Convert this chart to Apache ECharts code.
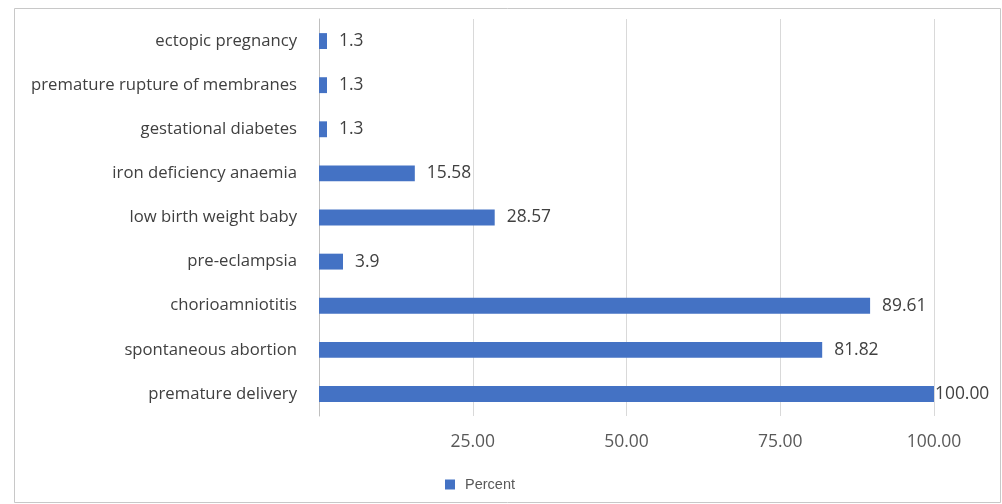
<!DOCTYPE html>
<html>
<head>
<meta charset="utf-8">
<script src="https://cdn.jsdelivr.net/npm/echarts@6/dist/echarts.min.js"></script>
<style>html,body{margin:0;padding:0;background:#fff;}#c{width:1002px;height:504px;}</style>
</head>
<body>
<div id="c"></div>
<script>
var categories = ['ectopic pregnancy','premature rupture of membranes','gestational diabetes','iron deficiency anaemia','low birth weight baby','pre-eclampsia','chorioamniotitis','spontaneous abortion','premature delivery'];
var percentValues = [1.3, 1.3, 1.3, 15.58, 28.57, 3.9, 89.61, 81.82, 100];
var valueLabels = ['1.3','1.3','1.3','15.58','28.57','3.9','89.61','81.82','100.00'];
var tickLabels = ['', '25.00', '50.00', '75.00', '100.00'];

var chart = echarts.init(document.getElementById('c'), null, {renderer:'canvas'});
chart.setOption({
  animation: false,
  backgroundColor: '#fff',
  graphic: [{
    type: 'rect', left: 12, top: 6, silent: true,
    shape: {width: 986, height: 494},
    style: {fill: 'none', stroke: '#c8c8c8', lineWidth: 1}
  }],
  grid: {left: 319, right: 68, top: 19, bottom: 88, containLabel: false},
  legend: {
    data: ['Percent'], left: 440, top: 472,
    itemWidth: 10, itemHeight: 10, icon: 'rect',
    textStyle: {color: '#595959', fontSize: 14.5, fontFamily: 'Liberation Sans', padding: [0,0,0,5]}
  },
  xAxis: {
    type: 'value', min: 0, max: 100, interval: 25,
    axisLine: {show: false}, axisTick: {show: false},
    splitLine: {show: true, lineStyle: {color: '#d9d9d9', width: 1}},
    axisLabel: {
      color: '#595959', fontSize: 17.5, margin: 17, fontFamily: 'Open Sans',
      formatter: function(v){ return tickLabels[Math.round(v/25)]; }
    }
  },
  yAxis: {
    type: 'category', data: categories, inverse: true,
    axisLine: {show: true, lineStyle: {color: '#bfbfbf'}},
    axisTick: {show: false},
    axisLabel: {color: '#404040', fontSize: 16.7, margin: 22, fontFamily: 'Open Sans'}
  },
  series: [{
    name: 'Percent', type: 'bar', barWidth: '36%',
    data: percentValues.map(function(v, i){
      return i === percentValues.length - 1 ? {value: v, label: {distance: 1}} : v;
    }),
    itemStyle: {color: '#4472C4'},
    label: {
      show: true, position: 'right', distance: 12,
      color: '#404040', fontSize: 17.4, fontFamily: 'Open Sans',
      formatter: function(p){ return valueLabels[p.dataIndex]; }
    }
  }]
});
</script>
</body>
</html>
